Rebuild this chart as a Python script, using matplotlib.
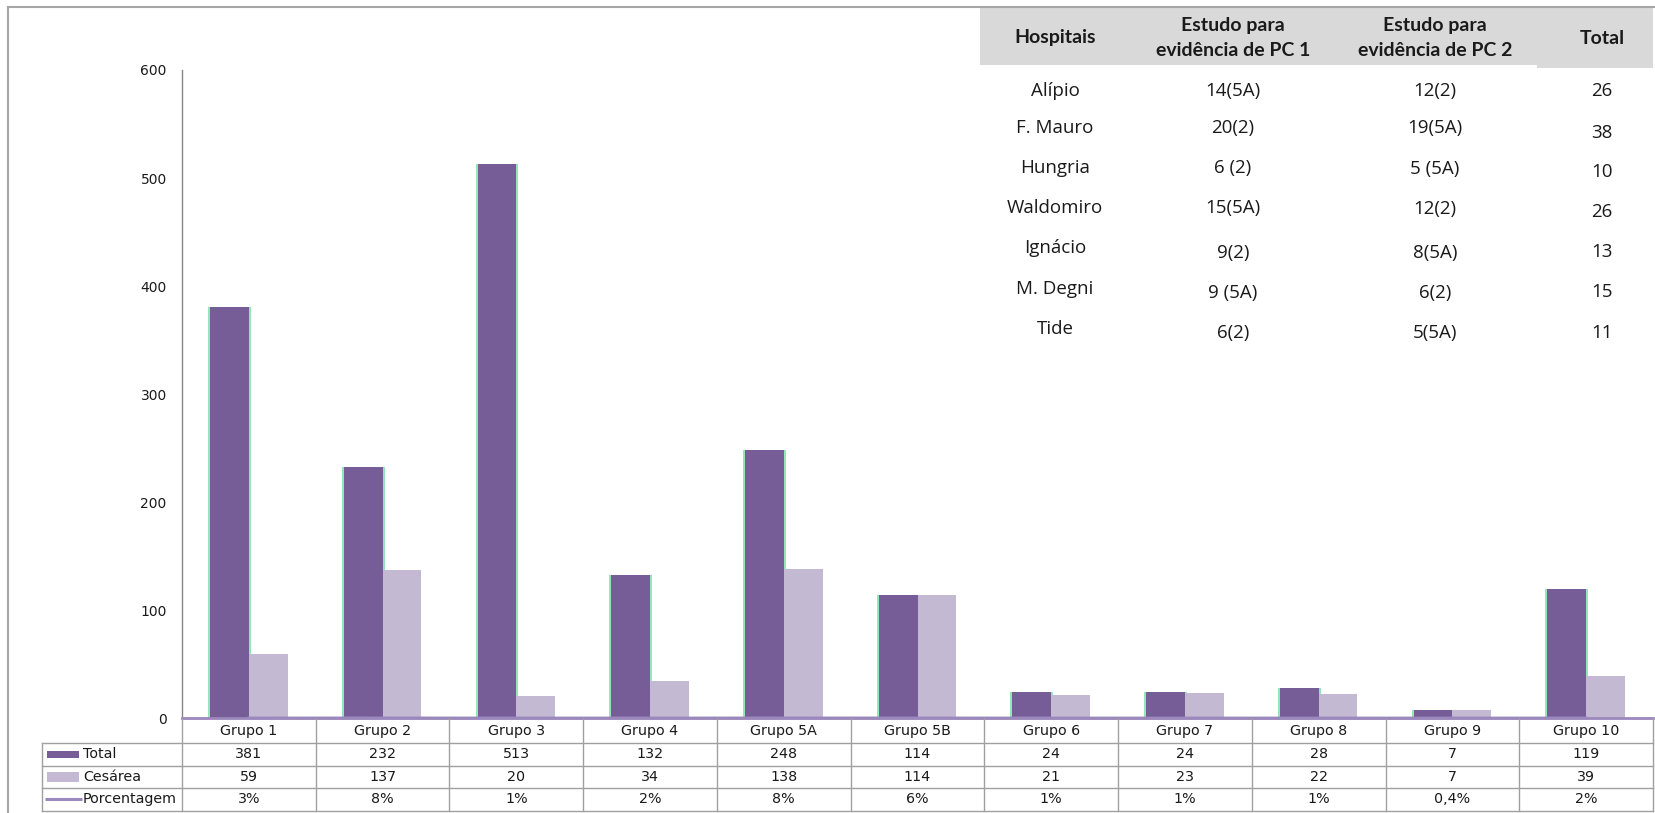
import matplotlib
matplotlib.use('Agg')
import matplotlib.pyplot as plt
from matplotlib.transforms import blended_transform_factory
from matplotlib.patches import Rectangle
import numpy as np

# ---------------- data ----------------
categories = ['Grupo 1', 'Grupo 2', 'Grupo 3', 'Grupo 4', 'Grupo 5A', 'Grupo 5B',
              'Grupo 6', 'Grupo 7', 'Grupo 8', 'Grupo 9', 'Grupo 10']
total = [381, 232, 513, 132, 248, 114, 24, 24, 28, 7, 119]
cesarea = [59, 137, 20, 34, 138, 114, 21, 23, 22, 7, 39]
porcentagem = [0.03, 0.08, 0.01, 0.02, 0.08, 0.06, 0.01, 0.01, 0.01, 0.004, 0.02]
porcentagem_labels = ['3%', '8%', '1%', '2%', '8%', '6%', '1%', '1%', '1%', '0,4%', '2%']
series_names = ['Total', 'Cesárea', 'Porcentagem']
yticks = [0, 100, 200, 300, 400, 500, 600]

tab_header = ['Hospitais', 'Estudo para\nevidência de PC 1', 'Estudo para\nevidência de PC 2', 'Total']
hospitais = ['Alípio', 'F. Mauro', 'Hungria', 'Waldomiro', 'Ignácio', 'M. Degni', 'Tide']
pc1 = ['14(5A)', '20(2)', '6 (2)', '15(5A)', '9(2)', '9 (5A)', '6(2)']
pc2 = ['12(2)', '19(5A)', '5 (5A)', '12(2)', '8(5A)', '6(2)', '5(5A)']
totais = ['26', '38', '10', '26', '13', '15', '11']

# ---------------- style ----------------
W, H = 1656, 813
C_TOTAL = '#775D97'
C_CES = '#C3B9D3'
C_LINE = '#9B88BC'
C_GREEN = '#93E6B8'
C_GRID = '#A0A0A0'
TXT = '#1a1a1a'

fig = plt.figure(figsize=(W / 100, H / 100), dpi=100)
fig.patch.set_facecolor('white')

x_left, x_right, y_top, y_base = 182, 1653, 70, 718
ax = fig.add_axes([x_left / W, (H - y_base) / H, (x_right - x_left) / W, (y_base - y_top) / H])
ax.set_facecolor('none')

ov = fig.add_axes([0, 0, 1, 1], zorder=5)
ov.set_xlim(0, W)
ov.set_ylim(H, 0)
ov.axis('off')
ov.patch.set_alpha(0)

x = np.arange(len(categories))
bw = 0.29
# green glow behind the purple bars
ax.bar(x - bw / 2, total, width=bw + 0.03, color=C_GREEN, zorder=2, linewidth=0)
ax.bar(x - bw / 2, total, width=bw, color=C_TOTAL, zorder=3, linewidth=0)
ax.bar(x + bw / 2, cesarea, width=bw, color=C_CES, zorder=3, linewidth=0)
ax.plot(x, porcentagem, color=C_LINE, lw=2, zorder=4, clip_on=False)

ax.set_xlim(-0.5, len(categories) - 0.5)
ax.set_ylim(0, 600)
ax.set_yticks(yticks)
ax.set_xticks([])
ax.tick_params(axis='y', length=0, pad=11, labelsize=10, labelcolor=TXT)
for s in ['top', 'right']:
    ax.spines[s].set_visible(False)
ax.spines['left'].set_color('#868686')
ax.spines['left'].set_linewidth(1)
ax.spines['bottom'].set_color(C_LINE)
ax.spines['bottom'].set_linewidth(2)
ax.spines['bottom'].set_zorder(4)

# ---------------- data table under the chart ----------------
trans = blended_transform_factory(ax.transData, ov.transData)
row_edges = [718, 743, 765.5, 788, 810.5]
tab_left = 42
lkw = dict(color=C_GRID, lw=1, zorder=1)
for yy in row_edges[1:]:
    ov.plot([tab_left, x_right], [yy, yy], **lkw)
ov.plot([tab_left, tab_left], [row_edges[1], row_edges[-1]], **lkw)
for i in range(len(categories) + 1):
    ov.plot([i - 0.5, i - 0.5], [row_edges[0], row_edges[-1]], transform=trans, **lkw)

tfs = 10.3
rows = [categories, [str(v) for v in total], [str(v) for v in cesarea], porcentagem_labels]
for r, labels in enumerate(rows):
    yc = (row_edges[r] + row_edges[r + 1]) / 2
    for i, lab in enumerate(labels):
        ov.text(i, yc, lab, transform=trans, ha='center', va='center', fontsize=tfs, color=TXT)

for r, name in enumerate(series_names):
    yc = (row_edges[r + 1] + row_edges[r + 2]) / 2
    if r == 0:
        ov.add_patch(Rectangle((47, yc - 3.5), 32, 7, color=C_TOTAL, lw=0))
    elif r == 1:
        ov.add_patch(Rectangle((47, yc - 5), 32, 10, color=C_CES, lw=0))
    else:
        ov.plot([45, 82], [yc, yc], color=C_LINE, lw=2.2, solid_capstyle='butt')
    ov.text(83, yc, name, ha='left', va='center', fontsize=tfs, color=TXT)

# chart border
ov.plot([8, 8], [H, 7], color='#A6A6A6', lw=1.5)
ov.plot([8, W], [7, 7], color='#A6A6A6', lw=1.5)

# ---------------- inset hospital table ----------------
ov.add_patch(Rectangle((980, 8), 1537 - 980, 65 - 8, color='#D9D9D9', lw=0, zorder=0))
ov.add_patch(Rectangle((1537, 8), 1653 - 1537, 68 - 8, color='#D9D9D9', lw=0, zorder=0))

col_x = [1055, 1233, 1435, 1602]
for cx, h in zip(col_x, tab_header):
    ov.text(cx, 38, h, ha='center', va='center', fontsize=14, fontweight='bold',
            family=['Lato', 'DejaVu Sans'], color=TXT, linespacing=1.55)

col_y = [
    [91, 128, 168, 208, 248, 289, 329],
    [91, 128, 168, 208, 253, 293, 333],
    [91, 128, 169, 209, 253, 293, 333],
    [91, 133, 172, 212, 252, 292, 333],
]
for cx, ys, vals in zip(col_x, col_y, [hospitais, pc1, pc2, totais]):
    for yy, v in zip(ys, vals):
        ov.text(cx, yy, v, ha='center', va='center', fontsize=13.5,
                family=['Open Sans', 'DejaVu Sans'], color=TXT)

fig.savefig('out.png', dpi=100)
